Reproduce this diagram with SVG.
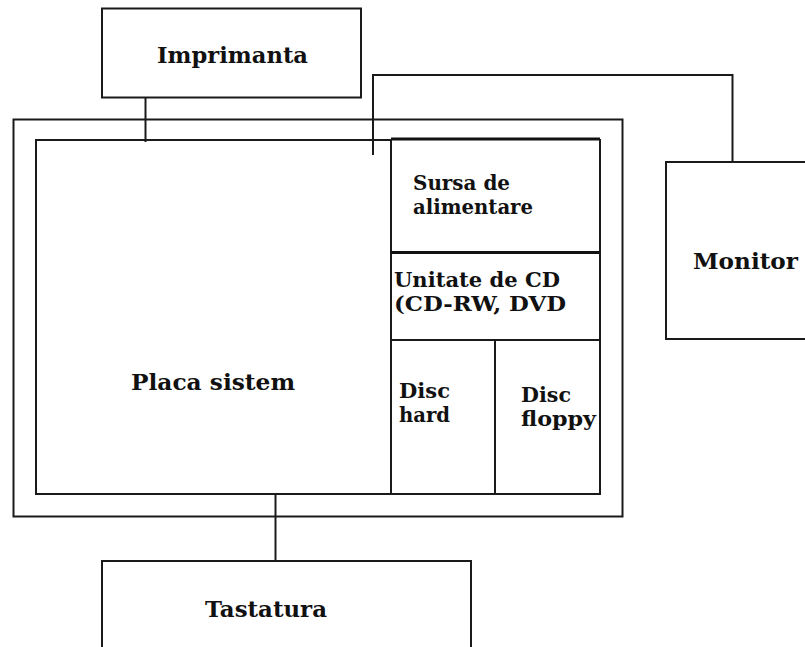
<svg xmlns="http://www.w3.org/2000/svg" width="805" height="647" viewBox="0 0 805 647">
<style>
.b{fill:none;stroke:#1a1a1a;stroke-width:2}
.k{fill:none;stroke:#111;stroke-width:3}
.t{font-family:"DejaVu Serif","Liberation Serif",serif;font-weight:bold;font-size:23px;fill:#111}
.s{font-family:"DejaVu Serif","Liberation Serif",serif;font-weight:bold;font-size:20px;fill:#111}
</style>
<rect width="805" height="647" fill="#fff"/>
<g id="case">
<rect class="b" x="13.5" y="119.5" width="609" height="397"/>
</g>
<g id="placa-sistem">
<rect class="b" x="36" y="140" width="355" height="354"/>
<text class="t" x="131" y="390" textLength="164" lengthAdjust="spacingAndGlyphs">Placa sistem</text>
</g>
<g id="sursa">
<line class="k" x1="391" y1="139" x2="600" y2="139"/>
<line class="b" x1="600" y1="139" x2="600" y2="252"/>
<line class="b" x1="391" y1="139" x2="391" y2="252"/>
<text class="s" x="413" y="189.5" textLength="97" lengthAdjust="spacingAndGlyphs">Sursa de</text>
<text class="s" x="413" y="213.5" textLength="120" lengthAdjust="spacingAndGlyphs">alimentare</text>
</g>
<g id="unitate-cd">
<line class="k" x1="391" y1="252.5" x2="600" y2="252.5"/>
<line class="b" x1="600" y1="252" x2="600" y2="340"/>
<text class="s" x="394" y="286.5" textLength="166" lengthAdjust="spacingAndGlyphs">Unitate de CD</text>
<text class="s" x="394" y="310.5" textLength="172" lengthAdjust="spacingAndGlyphs">(CD-RW, DVD</text>
</g>
<g id="disc-hard">
<rect class="b" x="391" y="340" width="104" height="154"/>
<text class="s" x="399" y="397.5" textLength="51" lengthAdjust="spacingAndGlyphs">Disc</text>
<text class="s" x="399" y="421.5" textLength="51" lengthAdjust="spacingAndGlyphs">hard</text>
</g>
<g id="disc-floppy">
<rect class="b" x="495" y="340" width="105" height="154"/>
<text class="s" x="521" y="401.5" textLength="50" lengthAdjust="spacingAndGlyphs">Disc</text>
<text class="s" x="521" y="425.5" textLength="75" lengthAdjust="spacingAndGlyphs">floppy</text>
</g>
<g id="imprimanta">
<rect class="b" x="102" y="8.5" width="259" height="89"/>
<text class="t" x="157" y="63" textLength="151" lengthAdjust="spacingAndGlyphs">Imprimanta</text>
</g>
<g id="monitor">
<rect class="b" x="666" y="162" width="145" height="177"/>
<text class="t" x="693" y="269" textLength="105" lengthAdjust="spacingAndGlyphs">Monitor</text>
</g>
<g id="tastatura">
<rect class="b" x="102" y="561" width="369" height="100"/>
<text class="t" x="205" y="617" textLength="122" lengthAdjust="spacingAndGlyphs">Tastatura</text>
</g>
<g id="connectors">
<line class="b" x1="145.5" y1="97" x2="145.5" y2="142"/>
<polyline class="b" points="373,155 373,75 732.5,75 732.5,162"/>
<line class="b" x1="275.5" y1="494" x2="275.5" y2="561"/>
</g>
</svg>
